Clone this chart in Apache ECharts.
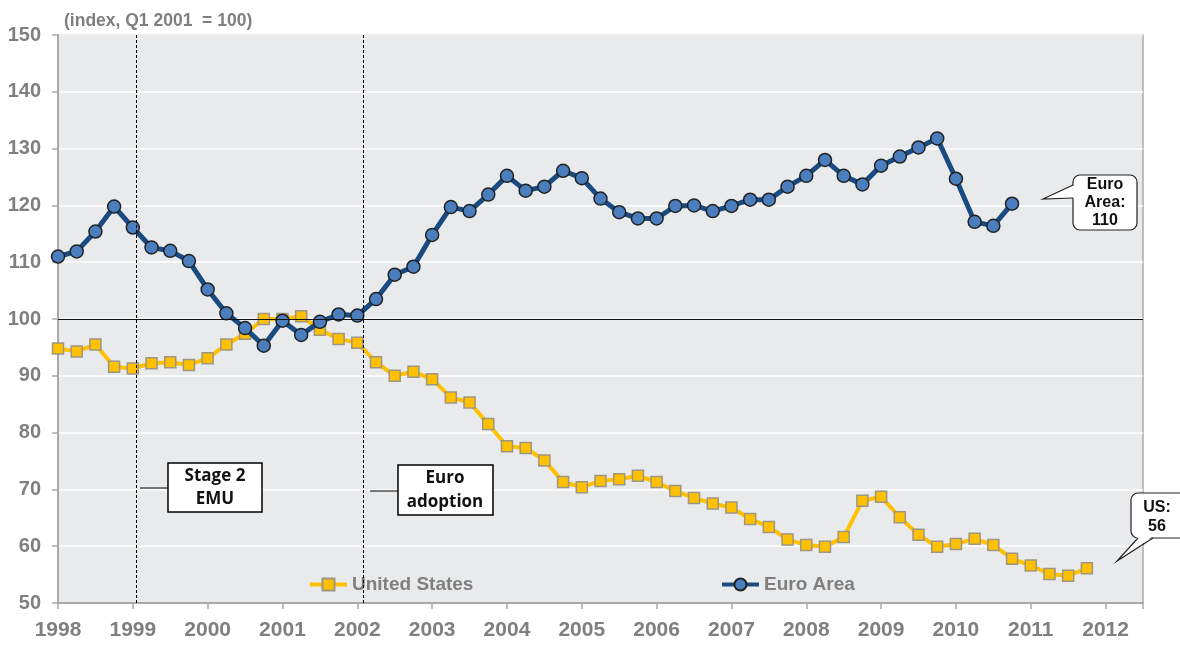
<!DOCTYPE html>
<html>
<head>
<meta charset="utf-8">
<script src="https://cdn.jsdelivr.net/npm/echarts@6/dist/echarts.min.js"></script>
<style>
  html, body { margin: 0; padding: 0; background: #fff; }
  #chart { width: 1180px; height: 646px; }
</style>
</head>
<body>
<div id="chart"></div>
<script>
// quarterly index, Q1 2001 = 100, first observation is 1998 Q1
var startYear = 1998;
var usValues = [
  94.8, 94.3, 95.5, 91.6,   91.3, 92.2, 92.4, 91.9,
  93.1, 95.5, 97.4, 100.0,  100.0, 100.5, 98.1, 96.5,
  95.8, 92.4, 90.0, 90.7,   89.4, 86.2, 85.3, 81.5,
  77.6, 77.3, 75.1, 71.3,   70.4, 71.5, 71.8, 72.4,
  71.3, 69.7, 68.5, 67.5,   66.8, 64.8, 63.4, 61.2,
  60.2, 59.9, 61.6, 68.0,   68.7, 65.1, 62.0, 59.9,
  60.4, 61.3, 60.2, 57.8,   56.6, 55.1, 54.8, 56.1
];
var euroValues = [
  111.0, 111.9, 115.4, 119.8,  116.1, 112.6, 112.0, 110.2,
  105.2, 101.0, 98.4, 95.3,    99.7, 97.2, 99.5, 100.8,
  100.6, 103.5, 107.8, 109.2,  114.8, 119.7, 119.0, 121.9,
  125.2, 122.6, 123.3, 126.1,  124.8, 121.2, 118.8, 117.7,
  117.7, 119.9, 120.0, 119.0,  119.9, 121.0, 121.0, 123.3,
  125.2, 128.0, 125.2, 123.7,  127.0, 128.6, 130.2, 131.8,
  124.7, 117.1, 116.4, 120.3
];
var eventDates = [1999.04, 2002.08];
var yTicks = { min: 50, max: 150, step: 10 };

function toPoints(values) {
  return values.map(function (v, i) { return [startYear + i / 4, v]; });
}

var chart = echarts.init(document.getElementById('chart'));
var gray = '#7F7F7F';
var font = '"Liberation Sans", Arial, sans-serif';

var legendBase = {
  top: 575,
  padding: 0,
  itemWidth: 37,
  itemHeight: 15,
  lineStyle: { width: 4 },
  textStyle: { fontFamily: font, fontSize: 19, fontWeight: 'bold', color: gray }
};

var option = {
  animation: false,
  title: {
    text: '(index, Q1 2001  = 100)',
    left: 64,
    top: 12,
    padding: 0,
    textStyle: { fontFamily: font, fontSize: 17.5, fontWeight: 'bold', color: gray }
  },
  legend: [
    Object.assign({ data: ['United States'], left: 308 }, legendBase),
    Object.assign({ data: ['Euro Area'], left: 720 }, legendBase)
  ],
  grid: {
    left: 58,
    right: 37,
    top: 35,
    bottom: 43,
    show: true,
    backgroundColor: '#E9EAEC',
    borderColor: '#A9A9A9',
    borderWidth: 1.5
  },
  xAxis: {
    type: 'value',
    min: startYear,
    max: 2012.5,
    interval: 1,
    axisLine: { show: true, lineStyle: { color: '#A9A9A9', width: 2 } },
    axisTick: { show: true, length: 6, lineStyle: { color: '#A9A9A9', width: 1.5 } },
    splitLine: { show: false },
    axisLabel: {
      margin: 17,
      fontFamily: font,
      fontSize: 21,
      fontWeight: 'bold',
      color: gray,
      formatter: function (v) { return Number.isInteger(v) ? String(v) : ''; }
    }
  },
  yAxis: {
    type: 'value',
    min: yTicks.min,
    max: yTicks.max,
    interval: yTicks.step,
    axisLine: { show: true, lineStyle: { color: '#A9A9A9', width: 2 } },
    axisTick: { show: true, length: 6, lineStyle: { color: '#A9A9A9', width: 1.5 } },
    splitLine: { show: true, lineStyle: { color: '#FFFFFF', width: 1.5 } },
    axisLabel: {
      margin: 17,
      fontFamily: font,
      fontSize: 20,
      fontWeight: 'bold',
      color: gray
    }
  },
  series: [
    {
      name: 'United States',
      type: 'line',
      data: toPoints(usValues),
      symbol: 'rect',
      symbolSize: 11,
      lineStyle: { color: '#FFC000', width: 4 },
      itemStyle: { color: '#FFC000', borderColor: '#9E9682', borderWidth: 1.5 },
      z: 3,
      markLine: {
        silent: true,
        symbol: 'none',
        label: { show: false },
        lineStyle: { color: '#000', width: 1, type: [3, 2] },
        data: eventDates.map(function (d) { return { xAxis: d }; })
      }
    },
    {
      name: 'Euro Area',
      type: 'line',
      data: toPoints(euroValues),
      symbol: 'circle',
      symbolSize: 13,
      lineStyle: { color: '#1A4B80', width: 5 },
      itemStyle: { color: '#4A7EBF', borderColor: '#222222', borderWidth: 1.5 },
      z: 4,
      markLine: {
        silent: true,
        symbol: 'none',
        label: { show: false },
        lineStyle: { color: '#111', width: 1.2, type: 'solid' },
        data: [{ yAxis: 100 }]
      }
    }
  ],
  graphic: [
    // Stage 2 EMU
    { type: 'line', shape: { x1: 140, y1: 488, x2: 168, y2: 488 }, style: { stroke: '#000', lineWidth: 1 }, z: 10 },
    { type: 'rect', shape: { x: 168, y: 463, width: 94, height: 49 }, style: { fill: '#fff', stroke: '#000', lineWidth: 1.5 }, z: 10 },
    { type: 'text', x: 215, y: 488, z: 11,
      style: { text: 'Stage 2\nEMU', align: 'center', verticalAlign: 'middle', lineHeight: 23,
        font: 'bold 17px "Open Sans", sans-serif', fill: '#111' } },
    // Euro adoption
    { type: 'line', shape: { x1: 370, y1: 491, x2: 398, y2: 491 }, style: { stroke: '#000', lineWidth: 1 }, z: 10 },
    { type: 'rect', shape: { x: 398, y: 465, width: 95, height: 50 }, style: { fill: '#fff', stroke: '#000', lineWidth: 1.5 }, z: 10 },
    { type: 'text', x: 445, y: 490, z: 11,
      style: { text: 'Euro\nadoption', align: 'center', verticalAlign: 'middle', lineHeight: 24,
        font: 'bold 17px "Open Sans", sans-serif', fill: '#111' } },
    // Euro Area callout
    { type: 'rect', shape: { x: 1073, y: 175, width: 64, height: 55, r: 7 }, style: { fill: '#fff', stroke: '#222', lineWidth: 1.2 }, z: 10 },
    { type: 'polygon', shape: { points: [[1043, 199], [1075, 185], [1075, 198]] }, style: { fill: '#fff' }, z: 11 },
    { type: 'polyline', shape: { points: [[1073, 185], [1043, 199], [1073, 198]] }, style: { stroke: '#222', lineWidth: 1.2, fill: null }, z: 11 },
    { type: 'text', x: 1105, y: 203, z: 12,
      style: { text: 'Euro\nArea:\n110', align: 'center', verticalAlign: 'middle', lineHeight: 18,
        font: 'bold 16px "Liberation Sans", Arial, sans-serif', fill: '#111' } },
    // US callout
    { type: 'rect', shape: { x: 1131, y: 493, width: 60, height: 45, r: 7 }, style: { fill: '#fff', stroke: '#222', lineWidth: 1.2 }, z: 10 },
    { type: 'polygon', shape: { points: [[1117, 561], [1138, 536], [1153, 536]] }, style: { fill: '#fff' }, z: 11 },
    { type: 'polyline', shape: { points: [[1138, 538], [1117, 561], [1153, 538]] }, style: { stroke: '#222', lineWidth: 1.2, fill: null }, z: 11 },
    { type: 'text', x: 1157, y: 517, z: 12,
      style: { text: 'US:\n56', align: 'center', verticalAlign: 'middle', lineHeight: 19,
        font: 'bold 16px "Liberation Sans", Arial, sans-serif', fill: '#111' } }
  ]
};

chart.setOption(option);
</script>
</body>
</html>
